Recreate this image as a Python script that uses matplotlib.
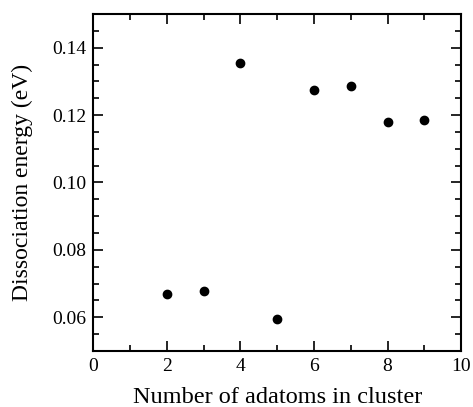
import numpy as np
import matplotlib
matplotlib.use("Agg")
import matplotlib.pyplot as plt
import matplotlib.ticker as ticker

plt.rcParams["font.family"] = ["Liberation Serif", "DejaVu Serif"]

# data
n_adatoms = [2, 3, 4, 5, 6, 7, 8, 9]
dissociation_energy = [0.0668, 0.0677, 0.1355, 0.0595, 0.1274, 0.1286, 0.1181, 0.1184]

fig = plt.figure(figsize=(4.73, 4.07), dpi=100)
ax = fig.add_axes([0.197, 0.1376, 0.778, 0.828])

ax.plot(n_adatoms, dissociation_energy, "o", color="black", markersize=6)

ax.set_xlim(0, 10)
ax.set_ylim(0.05, 0.15)
ax.xaxis.set_major_locator(ticker.MultipleLocator(2))
ax.xaxis.set_minor_locator(ticker.MultipleLocator(1))
ax.yaxis.set_major_locator(ticker.FixedLocator([0.06, 0.08, 0.10, 0.12, 0.14]))
ax.yaxis.set_minor_locator(ticker.MultipleLocator(0.005))
ax.yaxis.set_major_formatter(ticker.FormatStrFormatter("%.2f"))

ax.tick_params(which="both", direction="in", top=True, right=True,
               labelsize=14, width=1.2)
ax.tick_params(which="major", length=7, pad=5)
ax.tick_params(which="minor", length=4)
for s in ax.spines.values():
    s.set_linewidth(1.5)

ax.set_xlabel("Number of adatoms in cluster", fontsize=17.5, labelpad=9)
ax.set_ylabel("Dissociation energy (eV)", fontsize=17, labelpad=14)

plt.savefig("out.png", dpi=100)
